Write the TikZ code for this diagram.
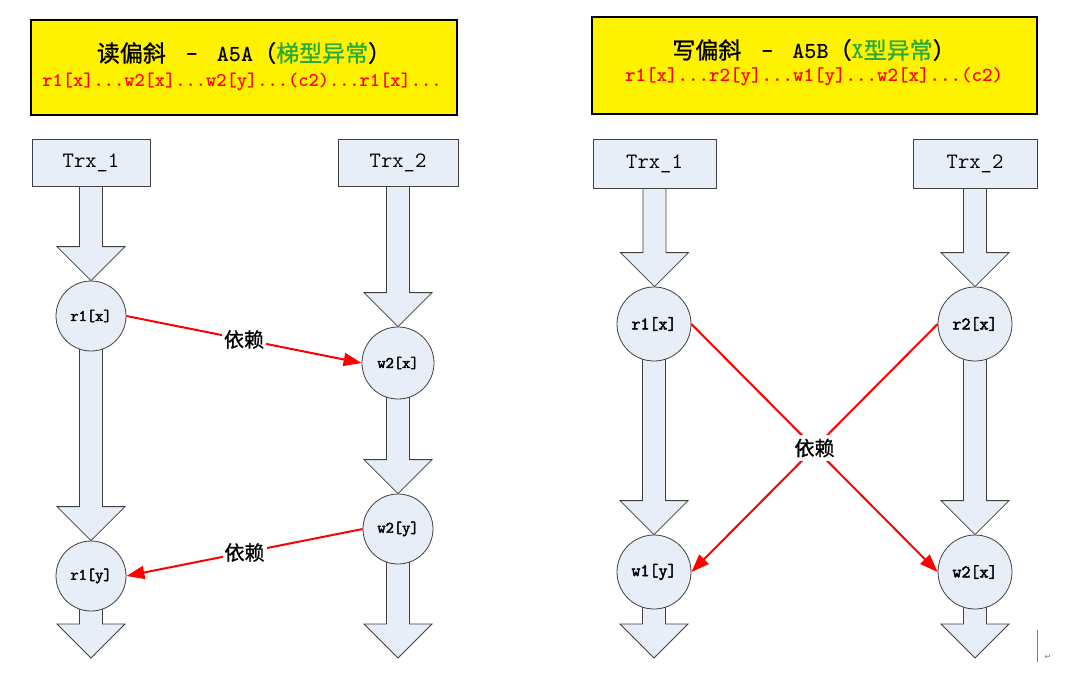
\documentclass[tikz,border=0pt]{standalone}
\usepackage{fontspec}
\newfontfamily\cjk[FakeBold=1]{Noto Sans CJK SC}
\newfontfamily\symfont{DejaVu Sans}
\newfontfamily\opfont[FakeBold=2.5]{Latin Modern Mono}
\usetikzlibrary{calc,arrows.meta}
\pgfdeclarelayer{bg}
\pgfsetlayers{bg,main}
\definecolor{boxfill}{RGB}{232,238,247}
\definecolor{edgegray}{RGB}{64,64,64}
\definecolor{ygreen}{RGB}{40,170,60}
\newcommand{\blockarrow}[2]{%
  \draw[blk] let \p1=(#1), \p2=(#2) in
    (\x1-11.5pt,\y1) -- (\x1-11.5pt,\y2+34pt) -- (\x1-34pt,\y2+34pt) --
    (\x1,\y2) -- (\x1+34pt,\y2+34pt) -- (\x1+11.5pt,\y2+34pt) --
    (\x1+11.5pt,\y1) -- cycle;}
\begin{document}
\begin{tikzpicture}[x=1pt,y=-1pt,
  hdr/.style={draw=black,line width=1.2pt,fill=yellow,inner sep=0pt},
  trx/.style={draw=edgegray,fill=boxfill,line width=0.8pt,inner sep=0pt,
    font=\ttfamily\fontsize{22}{22}\selectfont},
  opL/.style={circle,draw=edgegray,fill=boxfill,line width=0.8pt,inner sep=0pt,
    minimum size=70pt,font=\opfont\fontsize{16}{16}\selectfont},
  opR/.style={circle,draw=edgegray,fill=boxfill,line width=0.8pt,inner sep=0pt,
    minimum size=74pt,font=\opfont\fontsize{17.5}{17.5}\selectfont},
  blk/.style={draw=edgegray,fill=boxfill,line width=0.8pt,line join=miter},
  dep/.style={draw=red,line width=2pt,-{Triangle[length=18pt,width=13pt]}},
  lbl/.style={fill=white,inner sep=#1,text=black,font=\cjk\fontsize{20}{20}\selectfont},
  lbl/.default=2pt,
  ttl/.style={inner sep=0pt,font=\fontsize{23}{23}\selectfont},
  code/.style={inner sep=0pt,text=red,font=\ttfamily\bfseries\fontsize{#1}{#1}\selectfont}]
\useasboundingbox (0,0) rectangle (1067,681);

% ---------- left panel ----------
\node[hdr,minimum width=426pt,minimum height=95pt] (hdrL) at (244,67.5) {};
\node[ttl] (titleL) at (244,53) {\cjk 读偏斜\hspace{20pt}{\ttfamily\bfseries –}\hspace{19pt}{\ttfamily\bfseries A5A}（\textcolor{ygreen}{梯型异常}）};
\node[code=19.5] (codeL) at (242,82) {r1[x]...w2[x]...w2[y]...(c2)...r1[x]...};

\node[trx,minimum width=118pt,minimum height=47pt] (t1L) at (91,162.5) {Trx\_1};
\node[trx,minimum width=120pt,minimum height=47pt] (t2L) at (398,162.5) {Trx\_2};
\node[opL] (r1xL) at (91,316) {r1[x]};
\node[opL,minimum size=72pt] (w2xL) at (398,363) {w2[x]};
\node[opL] (w2yL) at (398,529) {w2[y]};
\node[opL] (r1yL) at (91,576) {r1[y]};
\coordinate (endL1) at (91,658);
\coordinate (endL2) at (398,658);

% ---------- right panel ----------
\node[hdr,minimum width=445pt,minimum height=97pt] (hdrR) at (814.5,65.5) {};
\node[ttl] (titleR) at (814,50) {\cjk 写偏斜\hspace{20pt}{\ttfamily\bfseries –}\hspace{19pt}{\ttfamily\bfseries A5B}（\textcolor{ygreen}{{\ttfamily\bfseries X}型异常}）};
\node[code=20] (codeR) at (814,77) {r1[x]...r2[y]...w1[y]...w2[x]...(c2)};

\node[trx,minimum width=123pt,minimum height=49pt] (t1R) at (654.5,163.5) {Trx\_1};
\node[trx,minimum width=124pt,minimum height=49pt] (t2R) at (975,163.5) {Trx\_2};
\node[opR] (r1xR) at (654,324) {r1[x]};
\node[opR] (r2xR) at (975,324) {r2[x]};
\node[opR] (w1yR) at (654,572) {w1[y]};
\node[opR] (w2xR) at (975,572) {w2[x]};
\coordinate (endR1) at (654,658);
\coordinate (endR2) at (975,658);

% ---------- block arrows (behind) ----------
\begin{pgfonlayer}{bg}
\blockarrow{t1L}{r1xL.north}
\blockarrow{r1xL}{r1yL.north}
\blockarrow{r1yL}{endL1}
\blockarrow{t2L}{w2xL.north}
\blockarrow{w2xL}{w2yL.north}
\blockarrow{w2yL}{endL2}
\blockarrow{t1R}{r1xR.north}
\blockarrow{r1xR}{w1yR.north}
\blockarrow{w1yR}{endR1}
\blockarrow{t2R}{r2xR.north}
\blockarrow{r2xR}{w2xR.north}
\blockarrow{w2xR}{endR2}
\end{pgfonlayer}

% ---------- dependencies ----------
\draw[dep] (r1xL.east) -- (w2xL.west) node[lbl,midway] (depL1) {依赖};
\draw[dep] (w2yL.west) -- (r1yL.east) node[lbl,midway] (depL2) {依赖};
\draw[dep] (r1xR.east) -- (w2xR.west);
\draw[dep] (r2xR.west) -- (w1yR.east) node[lbl=4pt,midway] (depR) {依赖};

% ---------- cursor mark ----------
\coordinate (curA) at (1037,630);
\coordinate (curB) at (1037,662);
\draw[gray,line width=0.6pt] (curA) -- (curB);
\node[inner sep=0pt,text=gray,font=\symfont\fontsize{8}{8}\selectfont] (ret) at (1048,657) {↵};
\end{tikzpicture}
\end{document}
